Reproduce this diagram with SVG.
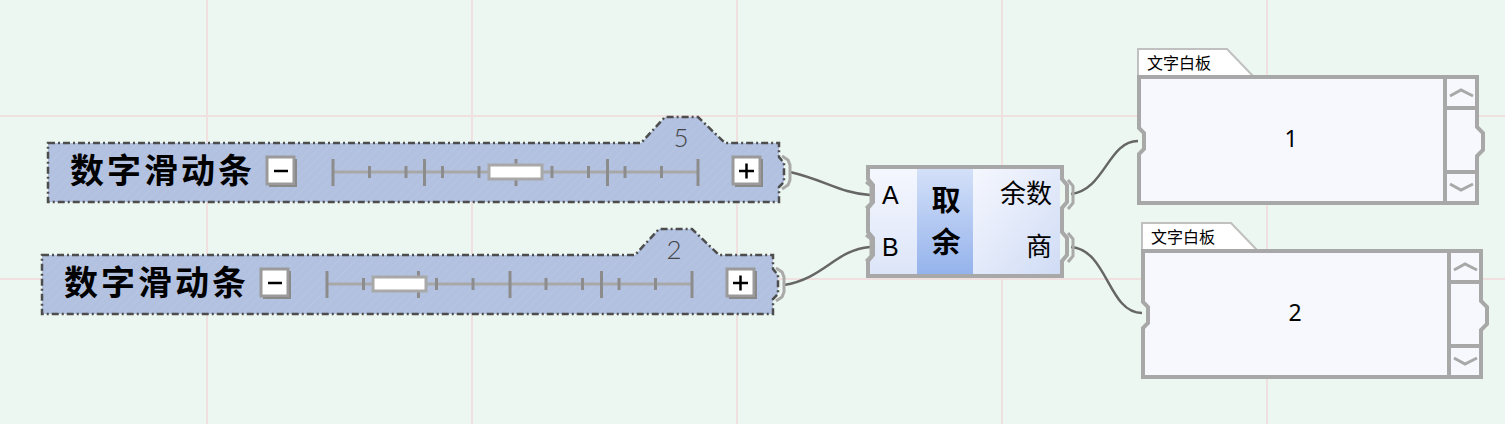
<svg xmlns="http://www.w3.org/2000/svg" xmlns:xlink="http://www.w3.org/1999/xlink" width="1505" height="424" viewBox="0 0 1505 424">
<style>
.grid{stroke:#F1E0E0;stroke-width:2}
.sbody{fill:url(#hatch);stroke:#4d4d4d;stroke-width:2.5;stroke-dasharray:7 3 2 3}
.title{font-family:"Noto Sans CJK SC","Noto Sans",sans-serif;font-weight:bold;font-size:34px;letter-spacing:3px;fill:#000}
.btn{fill:#fff;stroke:#9a9a9a;stroke-width:3}
.btnsh{fill:none;stroke:#8a8a8a;stroke-width:2}
.sign{stroke:#000;stroke-width:2.5}
.track{stroke:#a8a8a8;stroke-width:3}
.tick{stroke:#8c8c8c;stroke-width:3}
.thumb{fill:#fff;stroke:#a8a8a8;stroke-width:3}
.grip{fill:none;stroke:#a9a9a9;stroke-width:3}
.val{font-family:Lato,"Liberation Sans",sans-serif;font-weight:300;font-size:26px;fill:#444;text-anchor:middle}
.wire{fill:none;stroke:#666;stroke-width:2.5}
.cbox{fill:none;stroke:#a8a8a8;stroke-width:4}
.lat{font-family:"Liberation Sans",Arial,sans-serif;font-size:25px;fill:#000}
.cjk{font-family:"Noto Sans CJK SC",sans-serif;fill:#000}
.pbody{fill:#F7F8FD;stroke:#a8a8a8;stroke-width:4}
.ptab{fill:#fff;stroke:#c0c0c0;stroke-width:2}
.psep{stroke:#a8a8a8;stroke-width:4}
.chev{fill:none;stroke:#a8a8a8;stroke-width:3}
.pnum{font-family:"Noto Sans","Liberation Sans",sans-serif;font-size:23px;fill:#000;text-anchor:middle}
</style>
<defs>
<pattern id="hatch" patternUnits="userSpaceOnUse" width="6" height="6" patternTransform="rotate(45)">
<rect width="6" height="6" fill="#B2C1E0"/>
<line x1="0" y1="0" x2="0" y2="6" stroke="#BAC8E5" stroke-width="1.2"/>
</pattern>
<linearGradient id="gLeft" x1="0" y1="0" x2="0" y2="1">
<stop offset="0" stop-color="#F5F7FE"/><stop offset="1" stop-color="#DCE5F8"/>
</linearGradient>
<linearGradient id="gMid" x1="0" y1="0" x2="0" y2="1">
<stop offset="0" stop-color="#D3E0F8"/><stop offset="1" stop-color="#95B3EC"/>
</linearGradient>
<linearGradient id="gRight" x1="0" y1="0" x2="1" y2="1">
<stop offset="0" stop-color="#F5F7FE"/><stop offset="1" stop-color="#D0DCF5"/>
</linearGradient>
<g id="sliderBase">
<path class="sbody" d="M48,143 H641 L665,117 H698 L725,143 H779 V157 L784,163 V182 L779,187 V202 H48 Z"/>
<text class="title" x="70" y="183">数字滑动条</text>
<rect class="btn" x="267" y="157" width="27" height="27"/>
<path class="btnsh" d="M296,159 V186 H269"/>
<line class="sign" x1="274" y1="171" x2="288" y2="171"/>
<line class="track" x1="333" y1="172" x2="698" y2="172"/>
<g class="tick">
<line x1="333" y1="159" x2="333" y2="186"/><line x1="424.5" y1="159" x2="424.5" y2="186"/>
<line x1="516" y1="159" x2="516" y2="186"/><line x1="607.5" y1="159" x2="607.5" y2="186"/>
<line x1="698" y1="159" x2="698" y2="186"/>
<line x1="369.5" y1="166" x2="369.5" y2="178"/><line x1="406" y1="166" x2="406" y2="178"/>
<line x1="442.5" y1="166" x2="442.5" y2="178"/><line x1="479" y1="166" x2="479" y2="178"/>
<line x1="552" y1="166" x2="552" y2="178"/><line x1="588.5" y1="166" x2="588.5" y2="178"/>
<line x1="625" y1="166" x2="625" y2="178"/><line x1="661.5" y1="166" x2="661.5" y2="178"/>
</g>
<rect class="btn" x="733" y="157" width="27" height="27"/>
<path class="btnsh" d="M762,159 V186 H735"/>
<line class="sign" x1="739" y1="171" x2="754" y2="171"/>
<line class="sign" x1="746.5" y1="163.5" x2="746.5" y2="178.5"/>
<path class="grip" d="M782,156 L788,160 L790,165 V180 L788,185 L782,189"/>
</g>
</defs>
<rect width="1505" height="424" fill="#ECF7F2"/>
<g id="grid">
<line class="grid" x1="207" y1="0" x2="207" y2="424"/>
<line class="grid" x1="472" y1="0" x2="472" y2="424"/>
<line class="grid" x1="737" y1="0" x2="737" y2="424"/>
<line class="grid" x1="1002" y1="0" x2="1002" y2="424"/>
<line class="grid" x1="1267" y1="0" x2="1267" y2="424"/>
<line class="grid" x1="0" y1="116" x2="1505" y2="116"/>
<line class="grid" x1="0" y1="279" x2="1505" y2="279"/>
</g>
<g id="connectors">
<path class="wire" d="M790,172 C825,180 840,193 870,195"/>
<path class="wire" d="M784,285 C825,278 835,250 870,247"/>
<path class="wire" d="M1071,194 C1105,190 1108,141 1138,141"/>
<path class="wire" d="M1071,247 C1108,250 1108,313 1142,313"/>
</g>
<g id="slider1">
<use xlink:href="#sliderBase"/>
<rect class="thumb" x="489" y="165" width="53" height="14"/>
<text class="val" x="681" y="147">5</text>
</g>
<g id="slider2" transform="translate(-6,112)">
<use xlink:href="#sliderBase"/>
<rect class="thumb" x="379" y="165" width="53" height="14"/>
<text class="val" x="680" y="147">2</text>
</g>
<g id="remainder">
<rect x="870" y="169" width="47" height="105" fill="url(#gLeft)"/>
<rect x="917" y="169" width="56" height="105" fill="url(#gMid)"/>
<rect x="973" y="169" width="87" height="105" fill="url(#gRight)"/>
<path class="cbox" d="M868,167 H1062 V179 L1067,185 V202 L1062,208 V232 L1067,238 V255 L1062,261 V276 H868 V261 L873,255 V238 L868,232 V208 L873,202 V185 L868,179 Z"/>
<path class="grip" d="M866,182 L871,186 V203 L866,208"/>
<path class="grip" d="M866,235 L871,239 V256 L866,261"/>
<path class="grip" d="M1068,180 L1073,186 V203 L1068,209"/>
<path class="grip" d="M1068,233 L1073,239 V256 L1068,262"/>
<text class="lat" x="882" y="204">A</text>
<text class="lat" x="882" y="256">B</text>
<text class="cjk" x="946" y="211" font-size="29" font-weight="bold" text-anchor="middle">取</text>
<text class="cjk" x="946" y="253" font-size="29" font-weight="bold" text-anchor="middle">余</text>
<text class="cjk" x="1052" y="203" font-size="26" text-anchor="end">余数</text>
<text class="cjk" x="1052" y="256" font-size="26" text-anchor="end">商</text>
</g>
<g id="panel1">
<path class="ptab" d="M1138,76 V49 H1227 L1253,76"/>
<text class="cjk" x="1147" y="69" font-size="16">文字白板</text>
<path class="pbody" d="M1139,77 H1477 V127 L1483,133 V150 L1477,156 V203 H1139 V154 L1144,149 V133 L1139,128 Z"/>
<line class="psep" x1="1445" y1="77" x2="1445" y2="203"/>
<line class="psep" x1="1445" y1="108" x2="1477" y2="108"/>
<line class="psep" x1="1445" y1="172" x2="1477" y2="172"/>
<polyline class="chev" points="1450,96 1461,90 1473,96"/>
<polyline class="chev" points="1450,184 1461,190 1473,184"/>
<text class="pnum" x="1291" y="147">1</text>
</g>
<g id="panel2" transform="translate(4,174)">
<path class="ptab" d="M1138,76 V49 H1227 L1253,76"/>
<text class="cjk" x="1147" y="69" font-size="16">文字白板</text>
<path class="pbody" d="M1139,77 H1477 V127 L1483,133 V150 L1477,156 V203 H1139 V154 L1144,149 V133 L1139,128 Z"/>
<line class="psep" x1="1445" y1="77" x2="1445" y2="203"/>
<line class="psep" x1="1445" y1="108" x2="1477" y2="108"/>
<line class="psep" x1="1445" y1="172" x2="1477" y2="172"/>
<polyline class="chev" points="1450,96 1461,90 1473,96"/>
<polyline class="chev" points="1450,184 1461,190 1473,184"/>
<text class="pnum" x="1291" y="147">2</text>
</g>
</svg>
